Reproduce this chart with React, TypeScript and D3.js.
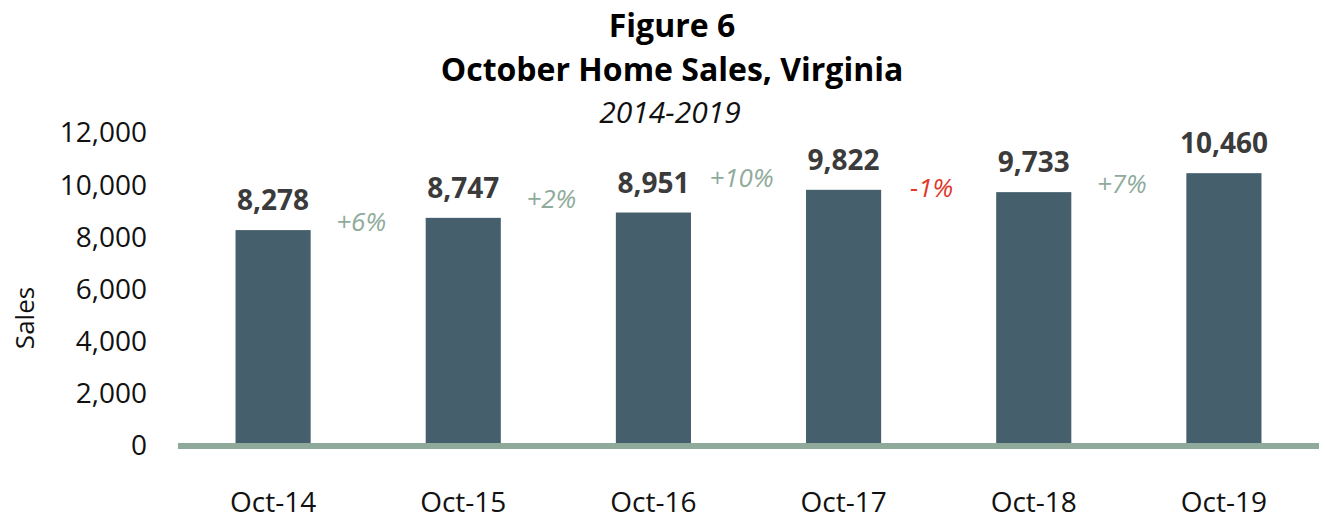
import React, { useEffect, useRef } from 'react';
import * as d3 from 'd3';

// data
const months = ['Oct-14', 'Oct-15', 'Oct-16', 'Oct-17', 'Oct-18', 'Oct-19'];
const sales = [8278, 8747, 8951, 9822, 9733, 10460];
const yTicks = [0, 2000, 4000, 6000, 8000, 10000, 12000];
// height (in sales units) where each year-over-year change label sits
const changeLevels = [8250, 9120, 9930, 9550, 9700];

const titleLines = ['Figure 6', 'October Home Sales, Virginia'];
const subtitle = '2014-2019';
const yLabel = 'Sales';

export default function App() {
  const ref = useRef<SVGSVGElement | null>(null);

  useEffect(() => {
    const width = 1325;
    const height = 520;
    const left = 178;
    const right = 1319;
    const base = 446;
    const top = 133;
    const font = "'Open Sans', 'Noto Sans', sans-serif";

    const svg = d3.select(ref.current);
    svg.selectAll('*').remove();
    svg.attr('width', width).attr('height', height);

    const x = d3.scaleBand<string>()
      .domain(months)
      .range([left, right])
      .paddingInner(0.605)
      .paddingOuter(0.3025);

    const y = d3.scaleLinear().domain([0, 12000]).range([base, top]);

    const loc = d3.formatLocale({ decimal: '.', thousands: ',', grouping: [3], currency: ['$', ''], minus: '-' });
    const fmtVal = loc.format(',');
    const fmtPct = loc.format('+.0%');

    // title
    svg.append('g')
      .selectAll('text')
      .data(titleLines)
      .join('text')
      .attr('x', 672)
      .attr('y', (d, i) => 37 + i * 44)
      .attr('text-anchor', 'middle')
      .attr('font-family', font)
      .attr('font-weight', 700)
      .attr('font-size', 32)
      .attr('fill', '#000')
      .text(d => d);

    svg.append('text')
      .attr('x', 670)
      .attr('y', 123)
      .attr('text-anchor', 'middle')
      .attr('font-family', font)
      .attr('font-style', 'italic')
      .attr('font-size', 30)
      .attr('fill', '#111')
      .text(subtitle);

    // y axis labels
    const yAxis = svg.append('g')
      .attr('transform', `translate(${left},0)`)
      .call(d3.axisLeft(y).tickValues(yTicks).tickFormat(d => fmtVal(d as number)).tickSize(0).tickPadding(31));
    yAxis.select('.domain').remove();
    yAxis.selectAll('text')
      .attr('font-family', font)
      .attr('font-size', 28)
      .attr('fill', '#111');

    svg.append('text')
      .attr('transform', 'translate(34,318) rotate(-90)')
      .attr('text-anchor', 'middle')
      .attr('font-family', font)
      .attr('font-size', 26)
      .attr('fill', '#111')
      .text(yLabel);

    // bars
    svg.append('g')
      .selectAll('rect')
      .data(sales)
      .join('rect')
      .attr('x', (d, i) => x(months[i])!)
      .attr('width', x.bandwidth())
      .attr('y', d => y(d))
      .attr('height', d => base - y(d))
      .attr('fill', '#465f6d');

    // baseline
    svg.append('line')
      .attr('x1', left)
      .attr('x2', right)
      .attr('y1', base)
      .attr('y2', base)
      .attr('stroke', '#8fa99b')
      .attr('stroke-width', 6);

    // value labels
    svg.append('g')
      .selectAll('text')
      .data(sales)
      .join('text')
      .attr('x', (d, i) => x(months[i])! + x.bandwidth() / 2)
      .attr('y', d => y(d) - 20)
      .attr('text-anchor', 'middle')
      .attr('font-family', font)
      .attr('font-weight', 700)
      .attr('font-size', 28)
      .attr('fill', '#3b3b3b')
      .text(d => fmtVal(d));

    // change labels
    const changes = sales.slice(1).map((v, i) => v / sales[i] - 1);
    svg.append('g')
      .selectAll('text')
      .data(changes)
      .join('text')
      .attr('x', (d, i) => (x(months[i])! + x.bandwidth() + x(months[i + 1])!) / 2 - 7)
      .attr('y', (d, i) => y(changeLevels[i]))
      .attr('text-anchor', 'middle')
      .attr('font-family', font)
      .attr('font-style', 'italic')
      .attr('font-size', 26)
      .attr('fill', d => (d < 0 ? '#e0392c' : '#8fab9b'))
      .text(d => fmtPct(d));

    // x labels
    svg.append('g')
      .selectAll('text')
      .data(months)
      .join('text')
      .attr('x', d => x(d)! + x.bandwidth() / 2)
      .attr('y', 512)
      .attr('text-anchor', 'middle')
      .attr('font-family', font)
      .attr('font-size', 28)
      .attr('fill', '#111')
      .text(d => d);
  }, []);

  return (
    <svg ref={ref} style={{ position: 'absolute', left: 0, top: 0, background: '#fff' }}></svg>
  );
}
